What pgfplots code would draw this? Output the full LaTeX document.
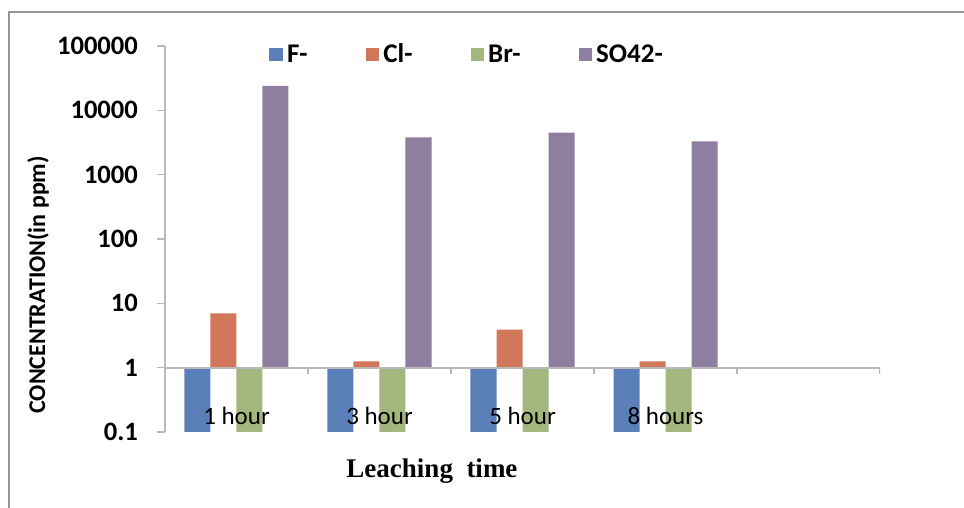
\documentclass[border=0pt]{standalone}
\usepackage{fontspec}
\setmainfont{Carlito}
\newfontfamily\serifb{Liberation Serif}
\usepackage{pgfplots}
\pgfplotsset{compat=1.18}

\definecolor{cF}{RGB}{91,127,185}
\definecolor{cCl}{RGB}{210,120,90}
\definecolor{cBr}{RGB}{163,182,125}
\definecolor{cSO}{RGB}{142,126,160}
\definecolor{axgray}{RGB}{185,185,185}
\definecolor{framegray}{RGB}{150,150,150}

\begin{document}
\begin{tikzpicture}
\useasboundingbox (-82.5pt,-38pt) rectangle (399.5pt,216pt);
\draw[framegray, line width=1pt] (-78pt,-38pt) -- (-78pt,210pt) -- (399.5pt,210pt);
\begin{axis}[
    at={(0pt,0pt)}, anchor=south west,
    scale only axis,
    width=357.5pt, height=193pt,
    ymode=log, ymin=0.1, ymax=100000,
    xmin=0.5, xmax=5.5,
    enlargelimits=false,
    axis on top,
    ybar=0pt, bar width=13pt,
    axis y line*=left, axis x line*=bottom,
    x axis line style={draw=none},
    y axis line style={axgray, line width=0.8pt},
    xtick={1,2,3,4},
    xticklabels={1 hour,3 hour,5 hour,8 hours},
    xtick style={draw=none},
    xticklabel style={font=\fontsize{12.5}{12.5}\selectfont, anchor=center, yshift=12pt},
    ytick={0.1,1,10,100,1000,10000,100000},
    yticklabels={0.1,1,10,100,1000,10000,100000},
    yminorticks=false,
    tick align=outside,
    major tick length=4pt,
    ytick style={axgray, line width=0.8pt},
    yticklabel style={font=\bfseries\fontsize{13.3}{13.3}\selectfont, xshift=-6pt},
    ylabel={CONCENTRATION(in ppm)},
    ylabel style={font=\bfseries\fontsize{12}{12}\selectfont, at={(axis description cs:-0.1776,0.381)}, anchor=center},
    xlabel={\serifb\bfseries Leaching\ \ time},
    xlabel style={font=\fontsize{13.5}{13.5}\selectfont, at={(axis description cs:0.3734,-0.1166)}, anchor=base},
    legend columns=4,
    legend style={draw=none, fill=none, at={(0.424,0.977)}, anchor=center,
        font=\bfseries\fontsize{13.5}{13.5}\selectfont,
        /tikz/every even column/.append style={column sep=27pt}},
    legend image code/.code={\fill[#1] (0pt,-3.2pt) rectangle (6.8pt,3.4pt);},
]
\addplot[fill=cF, draw=none] coordinates {(1,0.1) (2,0.1) (3,0.1) (4,0.1)};
\addplot[fill=cCl, draw=none] coordinates {(1,7) (2,1.25) (3,3.9) (4,1.25)};
\addplot[fill=cBr, draw=none] coordinates {(1,0.1) (2,0.1) (3,0.1) (4,0.1)};
\addplot[fill=cSO, draw=none] coordinates {(1,24000) (2,3800) (3,4500) (4,3300)};
\legend{F-,Cl-,Br-,SO42-}
\draw[axgray, line width=1pt] (axis cs:0.5,1) -- (axis cs:5.5,1);
\pgfplotsinvokeforeach{1.5,2.5,3.5,4.5,5.5}{
  \draw[axgray, line width=0.8pt] (axis cs:#1,1) -- ++(0pt,-3pt);
}
\end{axis}
\end{tikzpicture}
\end{document}
